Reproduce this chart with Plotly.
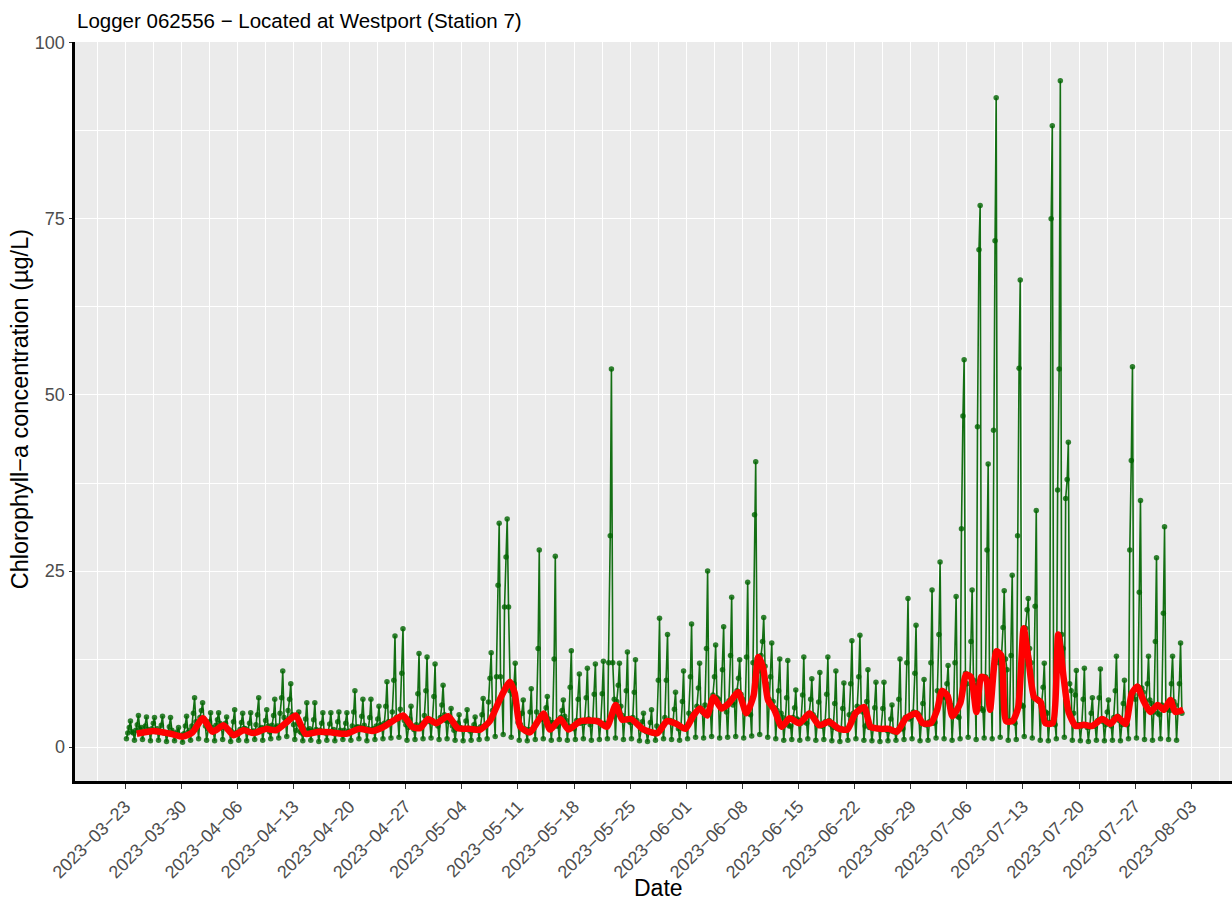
import pandas as pd
import plotly.graph_objects as go

# ---------------- data ----------------
start_date = "2023-03-23"

# per-day readings of the logger (day 0 = 2023-03-23), six readings a day
daily_night = [2.4, 2.0, 2.8, 2.3, 2.6, 2.1, 2.0, 1.7, 2.4, 3.4,
               3.0, 2.2, 2.9, 2.4, 2.0, 2.6, 2.3, 2.8, 2.2, 3.0,
               3.8, 3.2, 2.0, 2.6, 2.3, 2.0, 2.5, 2.1, 2.3, 2.9,
               2.4, 2.6, 3.0, 3.6, 4.0, 3.2, 2.5, 3.4, 3.6, 3.0,
               3.8, 2.4, 2.6, 2.3, 2.5, 3.2, 5.0, 7.5, 8.0, 3.5,
               2.2, 2.8, 4.0, 3.5, 3.0, 3.8, 2.6, 3.6, 3.2, 3.8,
               3.0, 6.8, 4.5, 3.5, 3.2, 2.2, 2.0, 3.0, 3.8, 2.6,
               2.9, 4.8, 5.0, 5.2, 6.8, 5.0, 6.4, 6.8, 4.6, 10.8,
               9.0, 5.6, 4.2, 3.0, 3.8, 3.4, 4.2, 3.0, 3.2, 2.7,
               2.4, 4.5, 5.0, 2.8, 2.6, 2.4, 2.2, 2.6, 4.2, 4.6,
               3.2, 3.5, 7.2, 6.0, 4.2, 9.0, 8.8, 5.2, 8.6, 12.0,
               11.0, 3.4, 5.8, 12.0, 6.5, 4.8, 3.2, 14.0, 8.0, 3.2,
               2.8, 3.0, 3.6, 3.0, 3.8, 3.2, 6.8, 7.8, 6.2, 4.6,
               5.4, 6.0]
daily_low = [1.2, 1.0, 1.1, 0.9, 1.0, 0.8, 0.9, 0.7, 1.0, 1.2,
             1.0, 0.9, 1.1, 0.8, 1.0, 0.9, 1.1, 1.0, 1.2, 1.3,
             1.5, 1.1, 0.9, 1.0, 0.8, 1.0, 0.9, 1.1, 1.0, 1.2,
             0.9, 1.1, 1.2, 1.3, 1.4, 1.0, 1.1, 1.2, 1.3, 1.1,
             1.2, 1.0, 0.9, 1.0, 1.1, 1.2, 1.5, 1.8, 1.4, 1.0,
             0.9, 1.1, 1.2, 1.0, 1.1, 1.0, 1.1, 1.2, 1.0, 1.1,
             1.2, 1.3, 1.1, 1.2, 0.9, 0.8, 1.0, 1.2, 1.1, 1.0,
             1.2, 1.4, 1.3, 1.5, 1.3, 1.4, 1.5, 1.3, 1.6, 1.8,
             1.4, 1.2, 1.0, 1.1, 1.0, 1.2, 1.0, 1.1, 0.9, 0.8,
             1.0, 1.2, 1.0, 0.9, 0.8, 0.9, 1.0, 1.1, 1.2, 0.9,
             1.0, 1.3, 1.2, 1.0, 1.2, 1.4, 1.1, 1.3, 1.2, 1.4,
             1.0, 1.1, 1.5, 1.3, 1.0, 0.9, 1.2, 1.4, 1.0, 0.9,
             0.8, 1.0, 0.9, 1.0, 0.9, 1.2, 1.3, 1.1, 1.0, 1.2,
             1.1, 1.0]
daily_morning = [2.0, 2.4, 2.1, 2.6, 2.3, 2.0, 1.8, 1.9, 3.0, 4.2,
                 2.6, 3.1, 2.8, 2.2, 2.5, 2.3, 3.2, 2.7, 3.1, 4.8,
                 5.2, 2.4, 2.6, 2.3, 2.4, 2.2, 2.0, 2.4, 3.0, 2.8,
                 2.6, 3.0, 3.4, 5.0, 5.4, 2.8, 3.2, 4.5, 3.8, 4.2,
                 3.6, 2.6, 2.5, 2.4, 2.9, 6.4, 10.0, 19.9, 7.5, 3.2,
                 2.5, 5.0, 4.6, 3.5, 4.2, 3.0, 3.8, 3.5, 3.7, 3.3,
                 12.0, 6.5, 4.0, 4.2, 2.6, 2.2, 3.0, 4.2, 3.6, 2.8,
                 4.8, 5.8, 6.0, 7.4, 5.8, 6.6, 8.0, 5.0, 12.0, 13.0,
                 6.8, 5.2, 3.2, 4.2, 3.4, 4.8, 3.2, 3.6, 2.8, 2.6,
                 4.6, 5.8, 3.0, 2.7, 2.6, 2.3, 2.4, 4.2, 5.0, 3.4,
                 3.6, 8.0, 7.0, 4.5, 31.0, 10.0, 45.5, 10.0, 45.0, 13.0,
                 3.8, 30.0, 16.9, 7.0, 6.2, 3.5, 36.5, 35.3, 4.8, 3.0,
                 2.9, 3.8, 3.2, 4.2, 3.2, 28.0, 8.6, 6.5, 5.0, 6.0,
                 5.2, 5.0]
daily_afternoon = [2.8, 3.2, 3.0, 3.4, 3.1, 2.9, 2.2, 3.0, 4.8, 5.2,
                   3.6, 3.9, 3.4, 3.6, 3.5, 3.4, 4.6, 3.8, 4.5, 7.0,
                   6.8, 3.4, 4.0, 3.9, 3.4, 3.3, 3.6, 3.4, 5.0, 4.4,
                   4.2, 4.0, 5.8, 9.5, 10.5, 4.0, 7.6, 8.0, 7.2, 6.0,
                   4.2, 3.4, 3.7, 3.2, 4.6, 9.8, 23.0, 27.0, 9.0, 4.8,
                   5.0, 14.0, 5.6, 12.5, 5.2, 8.5, 6.8, 7.0, 7.5, 7.6,
                   30.0, 8.8, 8.0, 7.8, 3.6, 3.5, 9.5, 9.5, 5.4, 6.5,
                   10.0, 8.4, 14.0, 10.0, 11.0, 13.0, 9.8, 12.8, 33.0, 15.0,
                   10.0, 8.0, 7.0, 5.6, 7.4, 6.8, 6.4, 7.5, 6.2, 5.5,
                   9.0, 10.0, 6.5, 5.6, 5.5, 4.0, 6.8, 12.0, 10.5, 6.2,
                   12.0, 16.0, 9.0, 12.0, 47.0, 15.0, 70.6, 28.0, 71.9, 17.0,
                   13.0, 53.8, 19.5, 20.0, 8.5, 75.0, 53.7, 38.0, 7.4, 6.8,
                   4.8, 7.0, 5.0, 8.0, 6.2, 40.7, 22.0, 9.0, 15.0, 19.0,
                   9.0, 9.0]
daily_peak = [3.7, 4.5, 4.3, 4.2, 4.4, 4.2, 2.8, 4.4, 7.0, 6.3,
              4.9, 4.9, 4.3, 5.3, 4.8, 4.9, 7.0, 5.3, 6.8, 10.8,
              9.0, 5.0, 6.3, 6.3, 4.9, 4.9, 5.0, 4.9, 8.0, 6.8,
              6.8, 5.8, 9.3, 15.8, 16.8, 5.8, 13.3, 12.8, 11.8, 8.8,
              5.5, 4.6, 5.3, 4.3, 6.9, 13.4, 31.8, 32.4, 11.9, 6.7,
              8.3, 28.0, 7.2, 27.1, 6.7, 13.7, 10.4, 11.2, 11.8, 12.2,
              53.7, 11.9, 13.5, 12.4, 4.8, 5.3, 18.3, 16.0, 7.8, 10.8,
              17.5, 11.9, 25.0, 14.5, 17.1, 21.3, 12.4, 23.4, 40.5, 18.4,
              14.8, 12.5, 12.3, 8.1, 12.8, 9.7, 10.6, 12.8, 10.8, 9.1,
              15.1, 15.9, 11.0, 9.2, 9.2, 6.0, 12.5, 21.1, 17.3, 9.6,
              22.3, 26.3, 11.6, 21.4, 55.0, 22.3, 76.9, 40.2, 92.2, 22.2,
              24.4, 66.3, 21.1, 33.6, 11.9, 88.2, 94.6, 43.3, 10.9, 11.2,
              7.0, 11.1, 6.7, 12.9, 9.5, 54.0, 35.0, 12.9, 26.9, 31.3,
              12.9, 14.8]
daily_evening = [2.2, 2.6, 2.5, 2.2, 2.0, 2.4, 1.6, 2.1, 3.6, 4.0,
                 2.8, 3.4, 2.5, 2.0, 2.7, 2.2, 2.6, 3.0, 2.8, 4.2,
                 4.6, 2.2, 2.4, 2.5, 2.1, 2.3, 2.4, 2.2, 2.8, 3.1,
                 2.5, 3.2, 3.6, 4.2, 3.8, 3.0, 2.9, 4.0, 3.5, 4.6,
                 3.0, 2.8, 2.7, 2.6, 3.0, 5.2, 10.0, 19.9, 6.0, 2.6,
                 2.4, 4.5, 4.0, 3.0, 4.4, 2.8, 3.4, 4.0, 3.6, 3.4,
                 12.0, 5.8, 3.7, 3.8, 2.4, 2.0, 2.6, 3.8, 3.3, 2.7,
                 4.6, 5.5, 4.8, 7.0, 5.6, 6.0, 7.5, 4.8, 12.5, 11.5,
                 6.5, 4.8, 3.0, 4.0, 3.6, 4.6, 3.0, 3.8, 2.6, 2.5,
                 4.8, 5.6, 2.8, 2.6, 2.5, 2.2, 2.6, 4.0, 4.8, 3.2,
                 3.4, 7.8, 6.5, 4.4, 10.5, 9.5, 5.5, 9.5, 13.5, 12.5,
                 3.6, 6.0, 14.0, 6.8, 5.0, 3.4, 16.0, 9.0, 3.2, 3.2,
                 3.0, 4.0, 3.4, 4.4, 3.4, 7.5, 8.4, 6.7, 4.8, 5.8,
                 6.5, 4.8]
reading_hours = [0.5, 4.0, 8.0, 12.5, 16.0, 20.0]

# smoothed (rolling mean) line: day offsets from start and values
red_days = [1.45, 3.6, 5.7, 7.2, 8.4, 9.7, 10.9, 12.3, 13.5, 14.8,
            16.0, 17.6, 18.8, 20.1, 21.3, 22.5, 24.2, 25.8, 27.6, 29.2,
            30.8, 32.1, 33.8, 34.7, 35.8, 36.8, 37.8, 38.8, 40.3, 41.5,
            43.0, 44.3, 45.5, 46.8, 48.0, 48.6, 49.3, 50.5, 51.5, 52.2,
            53.0, 54.3, 55.3, 56.8, 58.9, 60.1, 61.2, 62.0, 63.1, 64.7,
            66.4, 67.6, 68.8, 69.9, 70.9, 71.7, 72.6, 73.4, 74.4, 75.3,
            76.5, 77.5, 78.4, 79.0, 79.6, 80.2, 81.0, 81.9, 82.9, 84.1,
            85.4, 86.6, 87.8, 89.1, 90.1, 91.1, 92.2, 93.0, 94.3, 95.3,
            96.3, 97.4, 98.7, 99.5, 100.5, 101.3, 101.9, 102.6, 103.2, 104.2,
            104.9, 105.5, 106.2, 106.8, 107.4, 107.9, 108.7, 109.3, 109.9, 110.7,
            111.4, 112.1, 112.7, 113.4, 114.2, 114.8, 115.7, 116.4, 117.1, 117.7,
            118.6, 119.6, 120.6, 121.9, 122.9, 123.8, 124.8, 125.6, 126.3, 127.0,
            127.9, 128.8, 129.6, 130.4, 131.0, 132.0]
red_values = [1.9, 2.3, 1.9, 1.5, 2.1, 4.1, 2.2, 3.1, 1.7, 2.4,
              2.0, 2.6, 2.4, 3.5, 4.5, 1.9, 2.2, 2.1, 1.9, 2.6,
              2.3, 2.8, 4.0, 4.5, 2.9, 2.7, 4.0, 3.4, 4.4, 2.7,
              2.6, 2.5, 3.7, 6.9, 9.3, 7.7, 2.9, 2.1, 3.7, 4.8,
              2.5, 4.0, 2.5, 3.7, 3.7, 2.9, 6.0, 3.9, 4.0, 2.5,
              2.0, 3.7, 3.3, 2.6, 4.5, 5.5, 4.5, 7.1, 5.5, 6.2,
              7.8, 4.8, 7.3, 12.8, 11.2, 6.7, 5.3, 2.9, 4.1, 3.4,
              4.8, 3.1, 3.6, 2.6, 2.5, 4.8, 5.7, 2.9, 2.6, 2.6,
              2.2, 4.1, 4.8, 3.4, 3.4, 5.3, 8.0, 7.3, 4.4, 6.3,
              10.3, 10.0, 5.0, 10.0, 9.7, 5.3, 13.6, 13.0, 3.7, 3.7,
              5.6, 16.9, 12.4, 7.1, 6.4, 3.4, 3.4, 16.0, 9.7, 5.0,
              3.0, 3.2, 3.0, 4.0, 3.3, 4.3, 3.3, 7.7, 8.6, 6.7,
              5.0, 6.0, 5.3, 6.7, 5.0, 5.3]

y_ticks = [0, 25, 50, 75, 100]
title_text = "Logger 062556 \u2212 Located at Westport (Station 7)"
y_title = "Chlorophyll\u2212a concentration (\u00b5g/L)"
x_title = "Date"

# ---------------- build series ----------------
t0 = pd.Timestamp(start_date)
gx, gy = [], []
for i in range(len(daily_peak)):
    vals = [daily_night[i], daily_low[i], daily_morning[i],
            daily_afternoon[i], daily_peak[i], daily_evening[i]]
    for h, v in zip(reading_hours, vals):
        gx.append(t0 + pd.Timedelta(days=i) + pd.Timedelta(hours=h))
        gy.append(v)
gx, gy = gx[1:], gy[1:]  # record starts in the early morning of day 0

rx = [t0 + pd.Timedelta(days=d) for d in red_days]

fig = go.Figure()
fig.add_trace(go.Scatter(
    x=gx, y=gy, mode="lines+markers",
    line=dict(color="rgba(0,100,0,0.92)", width=1.6),
    marker=dict(color="rgba(0,100,0,0.8)", size=5.5),
    showlegend=False, hoverinfo="x+y"))
fig.add_trace(go.Scatter(
    x=rx, y=red_values, mode="lines",
    line=dict(color="#FF0000", width=6.5, shape="spline", smoothing=0.6),
    showlegend=False))

FONT = "Liberation Sans, Arial, sans-serif"
week_ms = 7 * 86400000

fig.update_layout(
    width=1232, height=906,
    margin=dict(l=75, r=0, t=42, b=125, autoexpand=False),
    paper_bgcolor="white", plot_bgcolor="#EBEBEB",
    font=dict(family=FONT, color="#4D4D4D"),
    annotations=[
        dict(text=title_text, xref="paper", yref="paper", x=0.0, y=1.029,
             xanchor="left", yanchor="middle", showarrow=False,
             font=dict(size=20.5, color="black", family=FONT)),
        dict(text=y_title, xref="paper", yref="paper", x=-0.0475, y=0.503,
             xanchor="center", yanchor="middle", textangle=-90, showarrow=False,
             font=dict(size=23.5, color="black", family=FONT)),
        dict(text=x_title, xref="paper", yref="paper", x=0.504, y=-0.1447,
             xanchor="center", yanchor="middle", showarrow=False,
             font=dict(size=23, color="black", family=FONT)),
    ],
)
fig.update_xaxes(
    type="date", automargin=False,
    range=["2023-03-16 18:00", "2023-08-08 02:00"],
    tick0=start_date, dtick=week_ms, tickformat="%Y\u2212%m\u2212%d",
    tickangle=-45, tickfont=dict(size=18, color="#4D4D4D", family=FONT),
    ticks="outside", ticklen=5, tickwidth=1.2, tickcolor="#333333",
    showgrid=True, gridcolor="white", gridwidth=1.2,
    minor=dict(dtick=week_ms / 2, tick0=start_date, showgrid=True,
               gridcolor="white", gridwidth=0.6),
    showline=True, linecolor="black", linewidth=3, zeroline=False,
)
fig.update_yaxes(
    range=[-4.8, 100.1], tickvals=y_ticks, automargin=False,
    tickfont=dict(size=18, color="#4D4D4D", family=FONT),
    ticks="outside", ticklen=3.5, tickwidth=1.2, tickcolor="#333333",
    showgrid=True, gridcolor="white", gridwidth=1.2,
    minor=dict(tickvals=[12.5, 37.5, 62.5, 87.5], showgrid=True,
               gridcolor="white", gridwidth=0.6),
    showline=True, linecolor="black", linewidth=3, zeroline=False,
)

# remove the page's default body margin so the figure fills the window exactly
fig.write_html(
    "out.html",
    config={"displayModeBar": False},
    post_script="document.body.style.margin='0px';document.body.style.padding='0px';",
)
